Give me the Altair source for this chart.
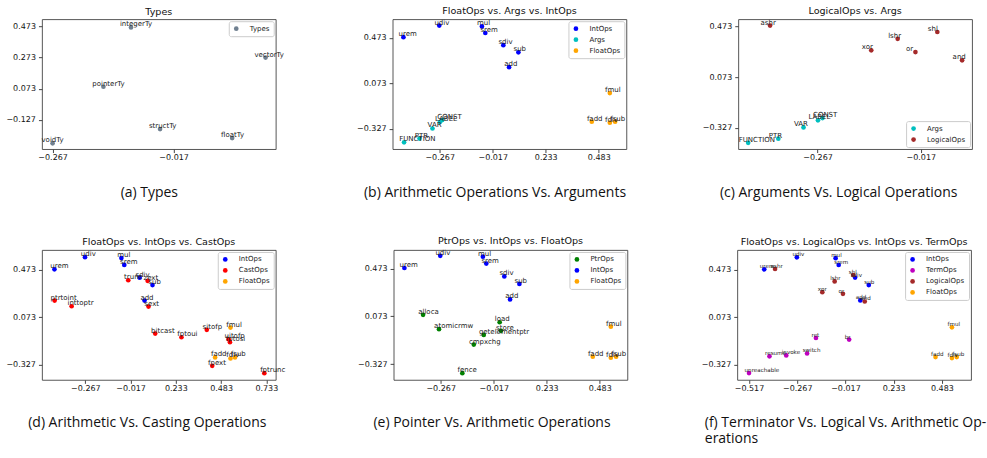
import altair as alt
import pandas as pd

# ---------------- data ----------------
types_names = ["integerTy", "vectorTy", "pointerTy", "structTy", "floatTy", "voidTy"]
types_x = [-0.105, 0.173, -0.162, -0.045, 0.104, -0.267]
types_y = [0.467, 0.273, 0.085, -0.187, -0.245, -0.279]

int_names = ["urem", "udiv", "mul", "srem", "sdiv", "sub", "add"]
int_x = [-0.438, -0.269, -0.068, -0.052, 0.033, 0.104, 0.060]
int_y = [0.478, 0.580, 0.573, 0.515, 0.408, 0.345, 0.215]

args_names = ["CONST", "LABEL", "VAR", "PTR", "FUNCTION"]
args_x = [-0.255, -0.266, -0.301, -0.362, -0.435]
args_y = [-0.250, -0.268, -0.324, -0.413, -0.446]

float_names = ["fmul", "fadd", "fdiv", "fsub"]
float_x = [0.535, 0.450, 0.535, 0.560]
float_y = [-0.013, -0.264, -0.273, -0.264]

logic_names = ["ashr", "shl", "lshr", "xor", "or", "and"]
logic_x = [-0.382, 0.023, -0.073, -0.137, -0.030, 0.083]
logic_y = [0.481, 0.430, 0.376, 0.285, 0.271, 0.206]

cast_names = ["trunc", "zext", "ptrtoint", "inttoptr", "sext", "bitcast",
              "fptoui", "sitofp", "uitofp", "fptosi", "fpext", "fptrunc"]
cast_x = [-0.030, 0.077, -0.437, -0.343, 0.082, 0.119, 0.264, 0.404, 0.525, 0.532, 0.434, 0.722]
cast_y = [0.386, 0.381, 0.215, 0.167, 0.164, -0.063, -0.094, -0.032, -0.112, -0.136, -0.335, -0.397]

ptr_names = ["alloca", "atomicrmw", "load", "store", "getelementptr", "cmpxchg", "fence"]
ptr_x = [-0.350, -0.275, 0.011, 0.017, -0.064, -0.111, -0.165]
ptr_y = [0.086, -0.034, 0.024, -0.048, -0.082, -0.163, -0.402]

term_names = ["ret", "br", "resume", "invoke", "switch", "unreachable"]
term_x = [-0.170, 0.002, -0.411, -0.324, -0.216, -0.517]
term_y = [-0.103, -0.116, -0.258, -0.250, -0.234, -0.400]

x_ticks = [-0.517, -0.267, -0.017, 0.233, 0.483, 0.733]
y_ticks = [0.473, 0.273, 0.073, -0.127, -0.327]

GROUPS = {
    "Types": (types_names, types_x, types_y, "#708090"),
    "IntOps": (int_names, int_x, int_y, "#0000ff"),
    "Args": (args_names, args_x, args_y, "#00bfbf"),
    "FloatOps": (float_names, float_x, float_y, "#ffa500"),
    "LogicalOps": (logic_names, logic_x, logic_y, "#a52a2a"),
    "CastOps": (cast_names, cast_x, cast_y, "#ff0000"),
    "PtrOps": (ptr_names, ptr_x, ptr_y, "#008000"),
    "TermOps": (term_names, term_x, term_y, "#bf00bf"),
}

W, H = 234, 130
LABEL_SHIFT = 0.023  # label starts slightly left of its point (data units)


def panel(groups, title, caption, xdom, ydom, legend_orient, yext, cap_x,
          cap_align="center", label_size=7):
    rows = []
    for g in groups:
        names, xs, ys, _ = GROUPS[g]
        for n, x, y in zip(names, xs, ys):
            rows.append({"group": g, "name": n, "x": x, "y": y})
    df = pd.DataFrame(rows)
    colors = [GROUPS[g][3] for g in groups]
    xt = [t for t in x_ticks if xdom[0] <= t <= xdom[1]]
    yt = [t for t in y_ticks if ydom[0] <= t <= ydom[1]]
    xscale = alt.Scale(domain=xdom, nice=False, zero=False)
    yscale = alt.Scale(domain=ydom, nice=False, zero=False)
    x_axis = alt.Axis(values=xt, format=".3f", title=caption, titleX=cap_x,
                      titleY=47, titleAlign=cap_align, titleBaseline="alphabetic",
                      titleLineHeight=16)
    y_axis = alt.Axis(values=yt, format=".3f", title=None, minExtent=yext, maxExtent=yext)
    dx = -LABEL_SHIFT * W / (xdom[1] - xdom[0])
    base = alt.Chart(df)
    pts = base.mark_circle(size=22, opacity=1).encode(
        x=alt.X("x:Q", scale=xscale, axis=x_axis),
        y=alt.Y("y:Q", scale=yscale, axis=y_axis),
        color=alt.Color("group:N", scale=alt.Scale(domain=groups, range=colors),
                        legend=alt.Legend(title=None, orient=legend_orient)),
    )
    txt = base.mark_text(align="left", baseline="alphabetic", dx=dx, dy=-1,
                         fontSize=label_size, font="DejaVu Sans", color="#222").encode(
        x="x:Q", y="y:Q", text="name:N")
    return alt.layer(pts, txt).resolve_scale(color="independent").properties(
        width=W, height=H, title=title)


pa = panel(["Types"], "Types", "(a) Types", [-0.289, 0.194], [-0.316, 0.520],
           "top-right", 40, 107)
pb = panel(["IntOps", "Args", "FloatOps"], "FloatOps vs. Args vs. IntOps",
           "(b) Arithmetic Operations Vs. Arguments", [-0.489, 0.613], [-0.505, 0.636],
           "top-right", 107.5, 102)
pc = panel(["Args", "LogicalOps"], "LogicalOps vs. Args",
           "(c) Arguments Vs. Logical Operations", [-0.459, 0.107], [-0.495, 0.531],
           "bottom-right", 110, 100)
pd_ = panel(["IntOps", "CastOps", "FloatOps"], "FloatOps vs. IntOps vs. CastOps",
            "(d) Arithmetic Vs. Casting Operations", [-0.507, 0.785], [-0.453, 0.641],
            "top-right", 41, 105)
pe = panel(["PtrOps", "IntOps", "FloatOps"], "PtrOps vs. IntOps vs. FloatOps",
           "(e) Pointer Vs. Arithmetic Operations", [-0.489, 0.613], [-0.458, 0.629],
           "top-right", 106, 98)
pf = panel(["IntOps", "TermOps", "LogicalOps", "FloatOps"],
           "FloatOps vs. LogicalOps vs. IntOps vs. TermOps",
           ["(f) Terminator Vs. Logical Vs. Arithmetic Op-", "erations"],
           [-0.578, 0.634], [-0.457, 0.642], "top-right", 108, -33,
           cap_align="left", label_size=5.6)

row1 = alt.hconcat(pa, pb, pc, spacing=0)
row2 = alt.hconcat(pd_, pe, pf, spacing=0)

chart = alt.vconcat(row1, row2, spacing=35).properties(
    padding={"left": 0, "top": 5, "right": 0, "bottom": 0}
).configure_view(
    stroke="#444", strokeWidth=0.9
).configure_axis(
    grid=False, domain=False, tickColor="#444", tickSize=3.5,
    labelFont="DejaVu Sans", labelFontSize=8, labelColor="#111",
    titleFont="Open Sans", titleFontSize=14, titleFontWeight="normal", titleColor="#111"
).configure_axisX(
    labelPadding=1
).configure_axisY(
    labelPadding=3
).configure_title(
    font="DejaVu Sans", fontSize=9.6, fontWeight="normal", color="#111",
    offset=3, frame="group", anchor="middle"
).configure_legend(
    fillColor="white", strokeColor="#cccccc", padding=4, cornerRadius=2,
    labelFont="DejaVu Sans", labelFontSize=7, labelColor="#222",
    symbolSize=22, symbolType="circle", symbolStrokeWidth=0,
    rowPadding=3, labelOffset=10, offset=2
)

chart.save("out.html", embed_options={"renderer": "svg", "actions": False})
